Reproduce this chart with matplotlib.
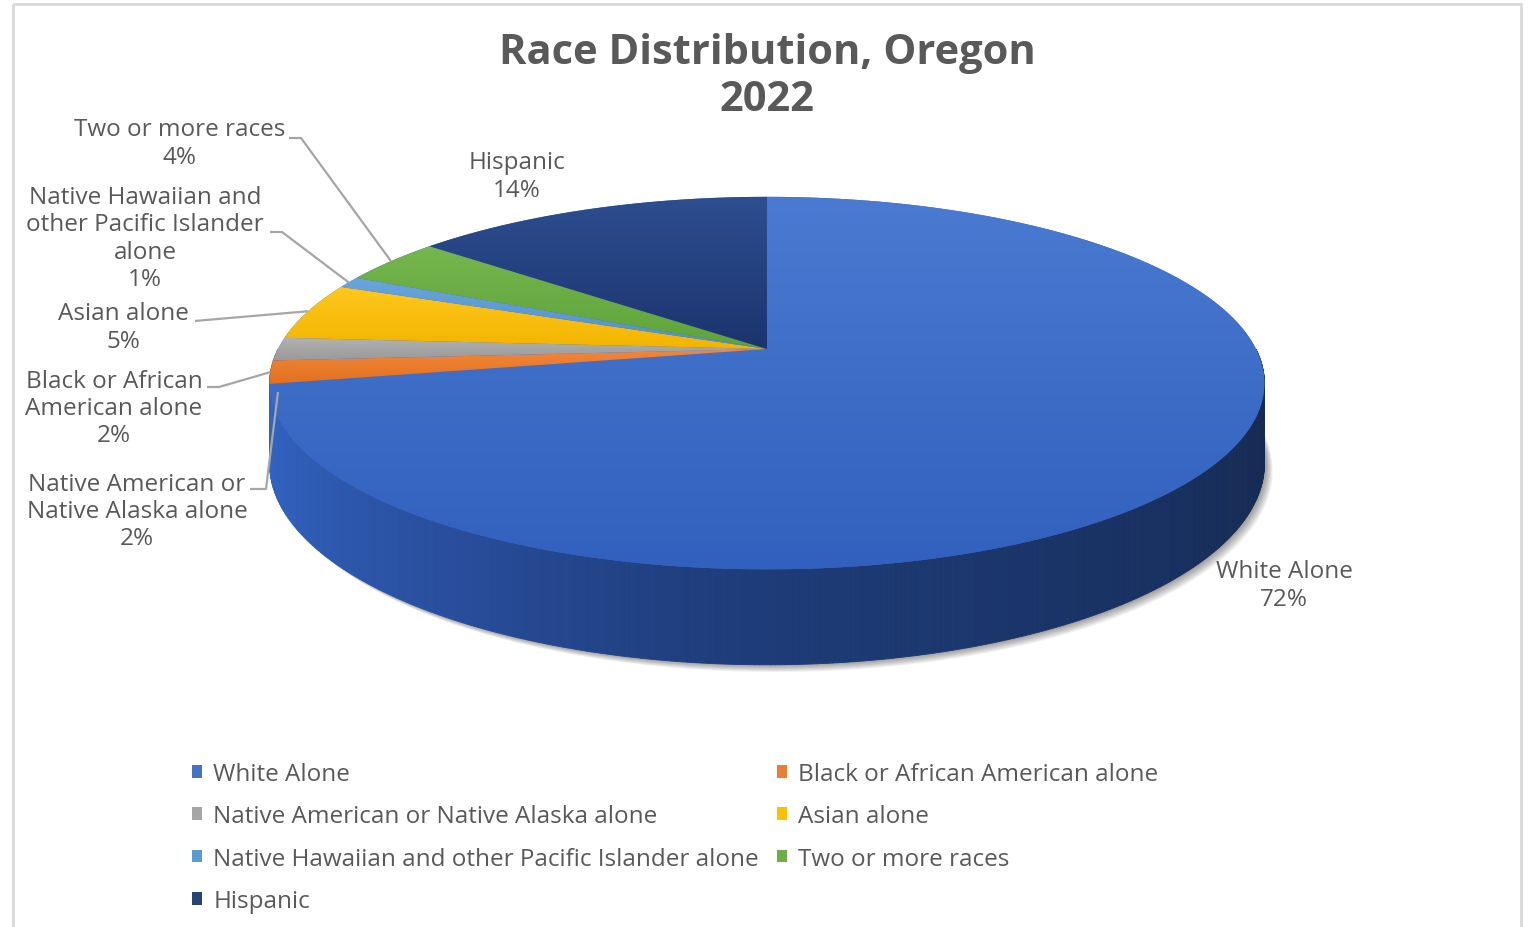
"""3D-style pie of Oregon race distribution (2022), drawn as a projected
cylinder so the slices keep an Excel-like tilt and depth."""

import numpy as np
import matplotlib

matplotlib.use("Agg")
import matplotlib.pyplot as plt
from matplotlib.colors import to_rgb
from matplotlib.patches import Patch, PathPatch, Polygon, Rectangle
from matplotlib.path import Path

# ---- data ---------------------------------------------------------------
categories = [
    "White Alone",
    "Black or African American alone",
    "Native American or Native Alaska alone",
    "Asian alone",
    "Native Hawaiian and other Pacific Islander alone",
    "Two or more races",
    "Hispanic",
]
shares = [72, 2, 2, 5, 1, 4, 14]
label_text = [
    "White Alone",
    "Black or African\nAmerican alone",
    "Native American or\nNative Alaska alone",
    "Asian alone",
    "Native Hawaiian and\nother Pacific Islander\nalone",
    "Two or more races",
    "Hispanic",
]
base_colors = ["#4472C4", "#ED7D31", "#A5A5A5", "#FFC000", "#5B9BD5", "#70AD47", "#264478"]
# light/dark ends of the top-face gradient for each slice
top_grad = [
    ("#4A7AD1", "#3160BE"),
    ("#F2873A", "#E2701F"),
    ("#B2B2B2", "#9A9A9A"),
    ("#FFC81E", "#F2B400"),
    ("#6AA6DC", "#4F8FCB"),
    ("#76B64D", "#5EA33A"),
    ("#2E4E90", "#1B346E"),
]

# ---- layout (pixels) ----------------------------------------------------
W, H = 1530, 928
CX, CY = 767, 350          # apex of the pie on screen
RX, RY = 489, 180          # radii of the projected disc
PERSP = 0.183              # far edge shrinks, near edge grows
DEPTH = 78                 # thickness of the cylinder
TEXT = "#595959"
LEADER = "#A6A6A6"
FONT = "Open Sans"
FS = 17.5

# label block centres and leader polylines (text end -> elbow); pie end is computed
label_pos = {
    0: (1284, 586),
    1: (114, 409),
    2: (137, 512),
    3: (123, 328),
    4: (145, 239),
    5: (180, 144),
    6: (517, 177),
}
leader_start = {
    1: [(207, 388), (219, 388)],
    2: [(250, 490), (266, 490)],
    3: [(195, 322), (206, 321)],
    4: [(270, 233), (282, 233)],
    5: [(289, 139), (301, 139)],
}


def project(theta_deg, r=1.0, h=0.0):
    t = np.radians(theta_deg)
    u, v = r * np.cos(t), r * np.sin(t)
    w = 1 + PERSP * v
    return CX + RX * u / w, CY + (-RY * v + DEPTH * h) / w


def arc(a0, a1, h=0.0, step=0.5):
    n = max(2, int(abs(a1 - a0) / step) + 1)
    t = np.linspace(a0, a1, n)
    x, y = project(t, 1.0, h)
    return np.column_stack([x, y])


def gradient_fill(ax, verts, c_top, c_bot, z):
    patch = PathPatch(Path(np.vstack([verts, verts[:1]]), closed=True),
                      facecolor="none", edgecolor="none")
    ax.add_patch(patch)
    x0, x1 = verts[:, 0].min(), verts[:, 0].max()
    y0, y1 = verts[:, 1].min(), verts[:, 1].max()
    k = np.linspace(0, 1, 256)[:, None]
    img = (1 - k) * np.array(to_rgb(c_top)) + k * np.array(to_rgb(c_bot))
    im = ax.imshow(img[:, None, :], extent=(x0, x1, y1, y0), aspect="auto",
                   interpolation="bilinear", zorder=z)
    im.set_clip_path(patch)


def side_color(i, theta):
    # theta in [180, 360]: lit on the left, darkening toward the right
    if i == 0:
        stops = np.array([180, 200, 230, 265, 300, 350, 360])
        cols = np.array([to_rgb(c) for c in
                         ["#3767C7", "#3262C0", "#2A52A4", "#1F3D7C", "#1A3467", "#152951", "#13264C"]])
        return tuple(np.interp(theta, stops, cols[:, j]) for j in range(3))
    return tuple(0.82 * c for c in to_rgb(base_colors[i]))


fig = plt.figure(figsize=(W / 100, H / 100), dpi=100)
ax = fig.add_axes([0, 0, 1, 1])
ax.set_axis_off()

# slice angles: start at 12 o'clock, run clockwise
cum = np.concatenate([[0], np.cumsum(shares)]) * 3.6
starts = 90 - cum[:-1]
ends = 90 - cum[1:]

# soft drop shadow under the cylinder
bottom = arc(0, 360, h=1.0, step=2)
for k in range(8):
    ax.add_patch(Polygon(bottom + [2 + k * 0.9, 1 + k * 0.9], closed=True,
                         facecolor="black", edgecolor="none", alpha=0.05, zorder=1))

# outer wall, visible for the front half (-180..0 in the unwrapped angles)
segments = []
for i in range(len(shares)):
    lo, hi = max(ends[i], -180), min(starts[i], 0)
    if lo >= hi:
        continue
    t = np.arange(lo, hi, 0.5)
    t = np.append(t, hi)
    for t0, t1 in zip(t[:-1], t[1:]):
        segments.append((np.sin(np.radians((t0 + t1) / 2)), i, t0, t1))
for _, i, t0, t1 in sorted(segments, key=lambda s: -s[0]):
    top = arc(t0, t1, 0.0)
    bot = arc(t1, t0, 1.0)
    c = side_color(i, (t0 + t1) / 2 + 360)
    ax.add_patch(Polygon(np.vstack([top, bot]), closed=True,
                         facecolor=c, edgecolor=c, linewidth=0.6, zorder=2))

# top face: flat underlay hides seams, then one gradient wedge per slice
ax.add_patch(Polygon(arc(0, 360), closed=True, facecolor="#3C6AC6",
                     edgecolor="none", zorder=3))
for i in range(len(shares)):
    verts = np.vstack([[project(0, 0.0)], arc(starts[i], ends[i])])
    gradient_fill(ax, verts, *top_grad[i], z=4)

# data labels and leader lines
for i, (x, y) in label_pos.items():
    ax.text(x, y, f"{label_text[i]}\n{shares[i]}%", ha="center", va="center",
            multialignment="center", fontsize=FS, color=TEXT, family=FONT,
            linespacing=1.17, zorder=6)
for i, pts in leader_start.items():
    mid = (starts[i] + ends[i]) / 2
    if categories[i].startswith("Native American"):
        tip = project(mid, 1.0, 0.55)
    else:
        tip = project(mid, 1.0, 0.0)
    xs = [p[0] for p in pts] + [tip[0]]
    ys = [p[1] for p in pts] + [tip[1]]
    ax.plot(xs, ys, color=LEADER, linewidth=1.6, zorder=5, solid_capstyle="butt")

ax.text(767, 77, "Race Distribution, Oregon\n2022", ha="center", va="center",
        fontsize=30, fontweight="bold", color=TEXT, family=FONT, linespacing=1.18)

# legend, row-major order laid out as two columns
order = [0, 2, 4, 6, 1, 3, 5]
handles = [Patch(facecolor=base_colors[i], edgecolor="none") for i in order]
ax.legend(handles, [categories[i] for i in order], ncol=2, frameon=False,
          loc="upper left", bbox_to_anchor=(192 / W, 1 - 763 / H),
          bbox_transform=ax.transAxes, prop={"family": FONT, "size": FS},
          labelcolor=TEXT, handlelength=0.42, handleheight=0.42,
          handletextpad=0.45, columnspacing=0.75, labelspacing=0.755,
          borderpad=0, borderaxespad=0)

# chart-area border
ax.add_patch(Rectangle((13, 5), 1508, 940, facecolor="none",
                       edgecolor="#D9D9D9", linewidth=2, zorder=7))

ax.set_xlim(0, W)
ax.set_ylim(H, 0)
fig.savefig("out.png", dpi=100, facecolor="white")
